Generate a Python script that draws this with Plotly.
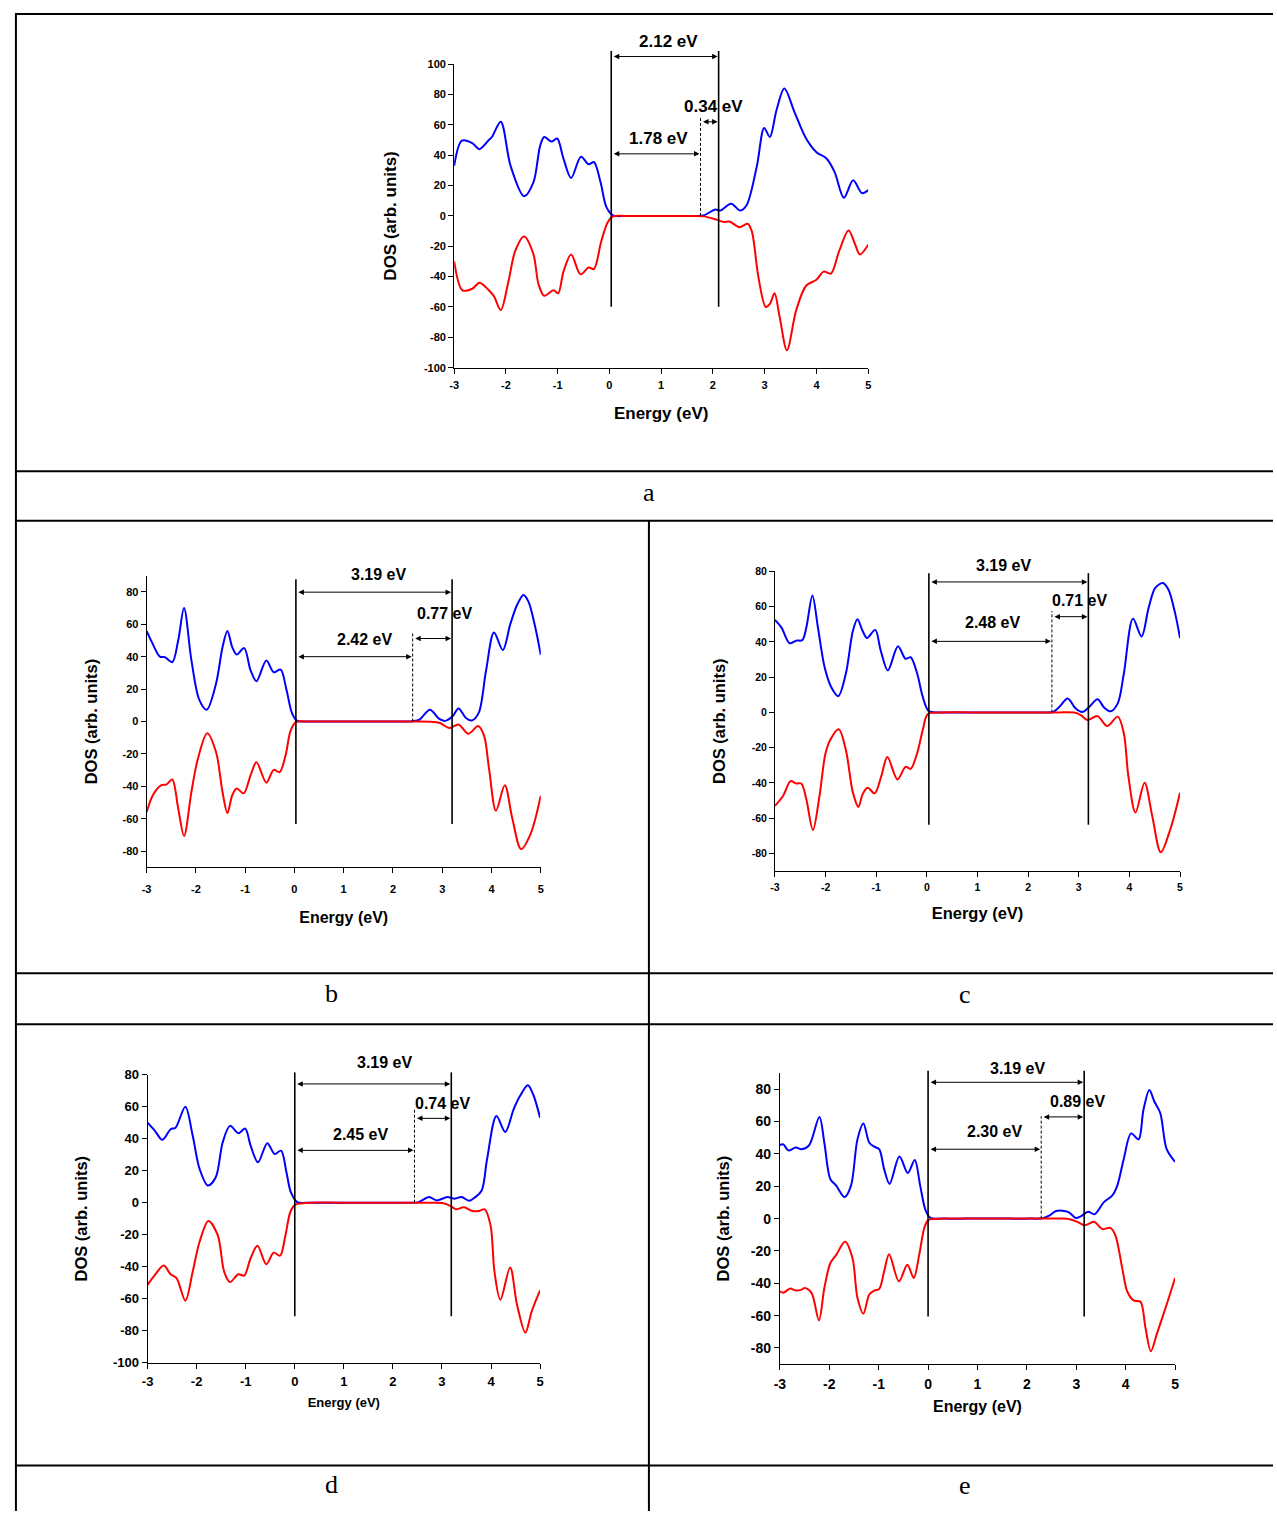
import plotly.graph_objects as go

W, H = 1277, 1519

# ---------------- data ----------------
# Panel a
a_E_up = [-3, -2.85, -2.65, -2.51, -2.33, -2.27, -2.10, -1.91, -1.65, -1.47, -1.34, -1.26, -1.12, -1.01, -0.89, -0.74,
          -0.55, -0.40, -0.30, -0.17, -0.06, 0.07, 0.3, 0.6, 1.2, 1.6, 1.82, 2.05, 2.14, 2.35, 2.53, 2.65, 2.85, 2.99, 3.10,
          3.23, 3.38, 3.58, 3.80, 4.00, 4.19, 4.35, 4.53, 4.71, 4.88, 5.0]
a_up = [33, 49.6, 48, 44, 50, 52, 62, 33, 13, 22, 46, 52, 49, 51, 38, 25, 39, 34, 35.5, 22, 6, 0.3, 0, 0, 0, 0, 0.3, 4.3, 3.5, 8,
        3.5, 7, 33, 58, 52, 70, 84, 68, 51, 42, 38, 29, 12, 23.5, 15, 17]
a_E_dn = [-3, -2.84, -2.65, -2.51, -2.33, -2.23, -2.10, -1.95, -1.82, -1.65, -1.47, -1.37, -1.26, -1.08, -0.99, -0.89,
          -0.74, -0.56, -0.40, -0.30, -0.16, -0.03, 0.07, 0.3, 0.6, 1.2, 1.6, 1.82, 2.08, 2.21, 2.32, 2.51, 2.67, 2.75, 2.88,
          3.02, 3.10, 3.19, 3.29, 3.43, 3.61, 3.80, 4.00, 4.14, 4.28, 4.44, 4.62, 4.75, 4.84, 5.0]
a_dn = [-30, -49, -48, -44, -49, -53, -62, -43, -23, -13.5, -25, -45, -52.6, -49, -51, -37, -25.4, -38.5, -34, -35, -17,
        -4, -0.3, 0, 0, 0, 0, -0.3, -2.6, -4, -3.7, -7.4, -5.2, -10, -40.6, -60, -58, -51, -66.7, -88.5, -62, -46, -42, -36.7, -38,
        -23, -9.6, -19, -25.4, -19]

# Panel b
b_E_up = [-3, -2.89, -2.73, -2.63, -2.48, -2.36, -2.24, -2.09, -1.93, -1.78, -1.59, -1.46, -1.36, -1.26, -1.17, -1.02,
          -0.89, -0.77, -0.57, -0.42, -0.28, -0.16, -0.05, 0.05, 0.3, 0.8, 1.6, 2.2, 2.40, 2.54, 2.75, 2.94, 3.06, 3.21, 3.33,
          3.48, 3.60, 3.74, 3.89, 4.05, 4.23, 4.38, 4.52, 4.65, 4.75, 4.89, 5.0]
b_up = [55.9, 48.8, 40, 39.7, 36.6, 49.8, 70, 37.7, 13.4, 7.3, 23.5, 45.7, 55.9, 45.7, 41.3, 45.3, 31.6, 24.9, 37.7,
        30.4, 32, 19.4, 5.3, 0.6, 0, 0, 0, 0, 0.2, 1.2, 7.3, 1.6, 0.4, 3.2, 8.1, 2.2, 0.6, 5.3, 31.6, 54.9, 44.1, 59.9, 72,
        78.1, 74, 57.9, 41.1]
b_E_dn = [-3, -2.87, -2.70, -2.60, -2.48, -2.36, -2.24, -2.09, -1.96, -1.77, -1.59, -1.46, -1.36, -1.26, -1.17, -1.03,
          -0.89, -0.77, -0.57, -0.42, -0.30, -0.18, -0.08, 0.03, 0.3, 0.9, 1.8, 2.5, 2.74, 2.94, 3.15, 3.33, 3.53, 3.73, 3.85,
          3.95, 4.09, 4.27, 4.42, 4.60, 4.79, 5.0]
b_dn = [-55.9, -45.3, -39.3, -38.9, -35.8, -53.4, -70.6, -43.3, -23.1, -7.3, -19, -43.3, -56.5, -45.3, -41.3, -44.3,
        -33.2, -25.1, -37.7, -29.8, -31.2, -21, -5.9, -0.4, 0, 0, 0, 0, -0.1, -0.8, -4, -1.8, -7.5, -2.8, -8.9, -29.1, -55,
        -39.3, -59.5, -78.7, -69.6, -45.7]

# Panel c
c_E_up = [-3, -2.87, -2.71, -2.58, -2.46, -2.38, -2.26, -2.15, -2.02, -1.89, -1.75, -1.60, -1.46, -1.37, -1.27, -1.18,
          -1.02, -0.91, -0.77, -0.57, -0.42, -0.32, -0.19, -0.08, 0.04, 0.3, 0.8, 1.6, 2.25, 2.49, 2.62, 2.78, 2.94, 3.07, 3.21,
          3.37, 3.50, 3.63, 3.77, 3.89, 4.07, 4.24, 4.38, 4.51, 4.66, 4.77, 4.90, 5.0]
c_up = [52.5, 48.1, 39.2, 40.7, 41, 48.1, 66.3, 48, 25.7, 14.4, 9.2, 21.9, 46.3, 52.8, 46.3, 42.2, 46.8, 35, 23.8, 37.5,
        30.4, 31.3, 21.9, 8.8, 0.7, 0, 0, 0, 0, 0.2, 3.2, 7.9, 2.2, 0.2, 3.2, 7.5, 2.8, 0.6, 5.1, 21.9, 53.2, 43.1, 59.4, 70.6,
        73.4, 69.7, 56.6, 42.2]
c_E_dn = [-3, -2.84, -2.69, -2.58, -2.48, -2.38, -2.25, -2.12, -2.00, -1.89, -1.74, -1.60, -1.46, -1.35, -1.27, -1.17,
          -1.03, -0.90, -0.78, -0.58, -0.42, -0.32, -0.19, -0.08, 0.02, 0.3, 0.9, 1.8, 2.6, 2.91, 3.04, 3.17, 3.37, 3.56, 3.77,
          3.89, 3.98, 4.12, 4.30, 4.45, 4.62, 4.81, 5.0]
c_dn = [-53, -47.4, -39, -40.3, -40.3, -49.3, -66.7, -47.4, -23, -14.6, -9.6, -21.2, -45.5, -53.6, -46.5, -42.7,
        -45.9, -36.2, -25.3, -38, -30.9, -32, -23, -9.9, -0.9, 0, 0, 0, 0, -0.1, -1.5, -4.3, -2.1, -7.7, -2.4, -11.8, -36.2,
        -56.8, -39.9, -58.6, -79.3, -66.1, -45.5]

# Panel d
d_E_up = [-3, -2.85, -2.70, -2.53, -2.43, -2.23, -2.08, -1.94, -1.77, -1.61, -1.47, -1.32, -1.15, -1.01, -0.90, -0.75,
          -0.56, -0.41, -0.28, -0.17, -0.08, 0.05, 0.3, 0.8, 1.6, 2.25, 2.51, 2.74, 2.89, 3.11, 3.25, 3.40, 3.56, 3.68, 3.81,
          3.92, 4.11, 4.29, 4.46, 4.59, 4.75, 4.86, 5.0]
d_up = [50, 44.9, 39.3, 45.9, 46.9, 60, 41.8, 21.1, 10.7, 15.9, 37.6, 48, 43.4, 46.3, 35.6, 25.2, 37.2, 30.4, 32.5, 19,
        6.6, 0.4, 0, 0, 0, 0, 0.2, 3.5, 1.4, 3.5, 2.5, 3.5, 1.2, 3.5, 7.6, 27.3, 54.2, 44.2, 58.3, 66.6, 73.4, 67.6, 53.1]
d_E_dn = [-3, -2.85, -2.67, -2.53, -2.41, -2.23, -2.08, -1.94, -1.76, -1.57, -1.44, -1.32, -1.15, -1.03, -0.90, -0.76,
          -0.58, -0.43, -0.30, -0.19, -0.09, 0.01, 0.3, 0.9, 1.8, 2.7, 3.01, 3.18, 3.28, 3.45, 3.62, 3.75, 3.87, 3.99, 4.07,
          4.19, 4.39, 4.53, 4.70, 4.83, 5.0]
d_dn = [-51.3, -45.1, -39.3, -44.7, -47.1, -61.2, -43, -24.4, -11.4, -20.3, -43, -49.6, -44.7, -45.5, -34.7, -26.9,
        -38.4, -31.2, -33.1, -20.3, -5.8, -1.2, 0, 0, 0, 0, -0.2, -2.1, -4.1, -2.9, -5.2, -5.2, -4.1, -14, -43, -60.6, -40.5,
        -63.7, -81.2, -67.8, -54.8]

# Panel e
e_E_up = [-3, -2.93, -2.83, -2.68, -2.56, -2.41, -2.20, -2.10, -1.98, -1.86, -1.69, -1.56, -1.43, -1.31, -1.19, -1.09,
          -0.99, -0.89, -0.78, -0.58, -0.41, -0.27, -0.16, -0.05, 0.05, 0.3, 0.8, 1.6, 2.1, 2.32, 2.46, 2.59, 2.76, 2.86, 2.99,
          3.10, 3.24, 3.37, 3.56, 3.73, 3.83, 3.96, 4.11, 4.26, 4.36, 4.48, 4.58, 4.70, 4.83, 5.0]
e_up = [45.5, 45.9, 42.2, 43.9, 42.9, 45.3, 62.9, 46.9, 24.5, 20.4, 13.3, 20.4, 49, 58.8, 46.9, 44.5, 42.9, 30.6, 21.4,
        38.4, 28.2, 36.3, 20.4, 5.1, 0.4, 0, 0, 0, 0, 0.2, 2, 4.7, 4.7, 3.7, 0.4, 1.6, 4.3, 2.7, 10.2, 14.3, 20.4, 36.7, 52.7,
        49, 67.3, 79.6, 72.4, 65.3, 42.9, 35.1]
e_E_dn = [-3, -2.93, -2.80, -2.67, -2.56, -2.50, -2.36, -2.21, -2.10, -1.98, -1.86, -1.68, -1.53, -1.43, -1.31, -1.19,
          -1.09, -0.99, -0.89, -0.79, -0.59, -0.42, -0.29, -0.18, -0.07, 0.01, 0.3, 0.9, 1.8, 2.5, 2.82, 3.02, 3.17, 3.36, 3.53,
          3.69, 3.79, 3.93, 4.03, 4.16, 4.30, 4.40, 4.51, 4.63, 4.83, 5.0]
e_dn = [-44.9, -45.9, -43.3, -44.5, -43.9, -42.9, -45.9, -62.9, -42.9, -27.6, -22.4, -14.3, -24.5, -49, -58.8, -46.9,
        -44.5, -43.5, -32.7, -22, -38.8, -28.6, -36.7, -22.4, -5.1, -0.8, 0, 0, 0, 0, -0.1, -2, -4.1, -2, -6.5, -5.7, -10.2,
        -30.6, -44.9, -50.6, -51.4, -67.3, -82, -71.4, -53.1, -36.7]

# Band-edge / gap values (eV) and labels
a_gap = dict(vbm=0.035, cbm=2.11, edge=1.76, labels=['2.12 eV', '1.78 eV', '0.34 eV'])
b_gap = dict(vbm=0.03, cbm=3.20, edge=2.40, labels=['3.19 eV', '2.42 eV', '0.77 eV'])
c_gap = dict(vbm=0.04, cbm=3.19, edge=2.47, labels=['3.19 eV', '2.48 eV', '0.71 eV'])
d_gap = dict(vbm=0.0, cbm=3.19, edge=2.44, labels=['3.19 eV', '2.45 eV', '0.74 eV'])
e_gap = dict(vbm=0.0, cbm=3.16, edge=2.29, labels=['3.19 eV', '2.30 eV', '0.89 eV'])

x_ticks = [-3, -2, -1, 0, 1, 2, 3, 4, 5]
x_ticktext = ['-3', '-2', '-1', '0', '1', '2', '3', '4', '5']
y_ticks_a = [-100, -80, -60, -40, -20, 0, 20, 40, 60, 80, 100]
y_ticks_b = [-80, -60, -40, -20, 0, 20, 40, 60, 80]
y_ticks_d = [-100, -80, -60, -40, -20, 0, 20, 40, 60, 80]
captions = ['a', 'b', 'c', 'd', 'e']

# ---------------- layout configuration (pixels) ----------------
def px(x):
    return x / W

def py(y):
    return 1 - y / H

panels = [
    dict(up=(a_E_up, a_up), dn=(a_E_dn, a_dn), gap=a_gap, yticks=y_ticks_a, yr=(-100, 100),
         xd=(451.7, 869), yd=(57.7, 364.3), tick=11, xt=17, yt=17, lab=17,
         vl=(108.7, -59.8), dash_top=64.8, arr=(105, 40.9, 62), txt=((1.14, 115), (0.94, 51), (2.02, 72)),
         cap=(648, 490), tls=2, xstand=17, ystand=22),
    dict(up=(b_E_up, b_up), dn=(b_E_dn, b_dn), gap=b_gap, yticks=y_ticks_b, yr=(-90, 90),
         xd=(141.7, 539), yd=(574.3, 869), tick=11, xt=16, yt=16.5, lab=16,
         vl=(87.7, -63.2), dash_top=54.5, arr=(79.8, 40, 51.2), txt=((1.70, 90.7), (1.43, 50.8), (3.05, 66.6)),
         cap=(328, 996), tls=6, xstand=18, ystand=20),
    dict(up=(c_E_up, c_up), dn=(c_E_dn, c_dn), gap=c_gap, yticks=y_ticks_b, yr=(-90, 80),
         xd=(775, 1183.3), yd=(570, 872.7), tick=10.5, xt=16.5, yt=16.5, lab=16,
         vl=(79, -63.7), dash_top=57.5, arr=(74, 40.3, 54.3), txt=((1.51, 83.4), (1.30, 51), (3.02, 63.5)),
         cap=(967, 997), tls=1, xstand=15, ystand=21),
    dict(up=(d_E_up, d_up), dn=(d_E_dn, d_dn), gap=d_gap, yticks=y_ticks_d, yr=(-100, 80),
         xd=(142.7, 538.3), yd=(1078.3, 1369.3), tick=13, xt=13, yt=16.5, lab=16,
         vl=(81.4, -70.9), dash_top=59.3, arr=(74.2, 32.7, 52.7), txt=((1.82, 87.6), (1.33, 42.8), (3.02, 61.8)),
         cap=(328, 1492), tls=2, xstand=9, ystand=21),
    dict(up=(e_E_up, e_up), dn=(e_E_dn, e_dn), gap=e_gap, yticks=y_ticks_b, yr=(-90, 90),
         xd=(780, 1178.3), yd=(1076.7, 1370.7), tick=14, xt=16, yt=16.5, lab=16,
         vl=(91.4, -60.6), dash_top=63.3, arr=(84.3, 42.9, 62.9), txt=((1.81, 92.7), (1.34, 54), (3.02, 72.4)),
         cap=(967, 1493), tls=2, xstand=9, ystand=17),
]

SANS = 'Liberation Sans, Arial, sans-serif'
fig = go.Figure()
shapes = []
annotations = []

for i, p in enumerate(panels):
    n = '' if i == 0 else str(i + 1)
    xa, ya = 'x' + n, 'y' + n
    fig.add_trace(go.Scatter(x=p['up'][0], y=p['up'][1], mode='lines',
                             line=dict(color='#0000ff', width=2, shape='spline', smoothing=0.9),
                             xaxis=xa, yaxis=ya, showlegend=False, hoverinfo='skip'))
    fig.add_trace(go.Scatter(x=p['dn'][0], y=p['dn'][1], mode='lines',
                             line=dict(color='#ff0000', width=2, shape='spline', smoothing=0.9),
                             xaxis=xa, yaxis=ya, showlegend=False, hoverinfo='skip'))
    tf = dict(family=SANS, size=p['tick'], color='black', weight='bold')
    ydom = [py(p['yd'][1]), py(p['yd'][0])]
    fig.layout['xaxis' + n] = dict(
        domain=[px(p['xd'][0]), px(p['xd'][1])], range=[-3, 5], anchor=ya,
        tickvals=x_ticks, ticktext=x_ticktext, ticks='outside', ticklen=5, tickwidth=1, tickcolor='black',
        ticklabelstandoff=p['tls'],
        showline=True, linecolor='black', linewidth=1, showgrid=False, zeroline=False, tickfont=tf,
        title=dict(text='Energy (eV)', font=dict(family=SANS, size=p['xt'], color='black', weight='bold'),
                   standoff=p['xstand']))
    fig.layout['yaxis' + n] = dict(
        domain=ydom, range=list(p['yr']), anchor=xa,
        tickvals=p['yticks'], ticktext=[str(v) for v in p['yticks']], ticks='outside', ticklen=5, tickwidth=1,
        tickcolor='black', showline=True, linecolor='black', linewidth=1, showgrid=False, zeroline=False,
        tickfont=tf,
        title=dict(text='DOS (arb. units)', font=dict(family=SANS, size=p['yt'], color='black', weight='bold'),
                   standoff=p['ystand']))

    y0, y1 = p['yr']

    def dom(v):
        return (v - y0) / (y1 - y0)

    def pap(v):
        return ydom[0] + dom(v) * (ydom[1] - ydom[0])

    g = p['gap']
    # solid band-edge lines
    for e in (g['vbm'], g['cbm']):
        shapes.append(dict(type='line', xref=xa, yref=ya + ' domain', x0=e, x1=e,
                           y0=dom(p['vl'][1]), y1=dom(p['vl'][0]), line=dict(color='black', width=1.6)))
    # dashed edge line
    shapes.append(dict(type='line', xref=xa, yref=ya, x0=g['edge'], x1=g['edge'], y0=0, y1=p['dash_top'],
                       line=dict(color='black', width=1, dash='3px,2px')))
    # double arrows
    spans = [(g['vbm'], g['cbm'], p['arr'][0]), (g['vbm'], g['edge'], p['arr'][1]), (g['edge'], g['cbm'], p['arr'][2])]
    for (s, t, yv) in spans:
        annotations.append(dict(x=t, y=pap(yv), ax=s, ay=0, xref=xa, yref='paper', axref=xa, ayref='pixel', text='',
                                showarrow=True, arrowhead=2, arrowside='end+start', arrowsize=1.1,
                                arrowwidth=1, arrowcolor='black', standoff=1, startstandoff=1))
    for (lbl, (tx, tyv)) in zip(g['labels'], p['txt']):
        annotations.append(dict(x=tx, y=pap(tyv), xref=xa, yref='paper', text=lbl, showarrow=False,
                                xanchor='center', yanchor='middle',
                                font=dict(family=SANS, size=p['lab'], color='black', weight='bold')))
    annotations.append(dict(x=px(p['cap'][0]), y=py(p['cap'][1]), xref='paper', yref='paper', text=captions[i],
                            showarrow=False, xanchor='center', yanchor='middle',
                            font=dict(family='Liberation Serif, Times New Roman, serif', size=26, color='black')))

# table frame
for yy in (7, 469, 519, 976, 1027.5, 1473):
    shapes.append(dict(type='line', xref='paper', yref='paper', x0=px(10), x1=1, y0=py(yy), y1=py(yy),
                       line=dict(color='black', width=2)))
shapes.append(dict(type='line', xref='paper', yref='paper', x0=px(10), x1=px(10), y0=py(6), y1=0,
                   line=dict(color='black', width=2)))
shapes.append(dict(type='line', xref='paper', yref='paper', x0=px(648), x1=px(648), y0=py(519), y1=0,
                   line=dict(color='black', width=2)))

fig.update_layout(width=W, height=H, margin=dict(l=0, r=0, t=0, b=0), paper_bgcolor='white',
                  plot_bgcolor='white', shapes=shapes, annotations=annotations, showlegend=False)
fig.write_html('out.html', config={'displayModeBar': False},
               post_script="var s=document.documentElement.style;s.margin='0';s.padding='0';s.overflow='hidden';"
                           "var b=document.body.style;b.margin='0';b.padding='0';b.overflow='hidden';")
